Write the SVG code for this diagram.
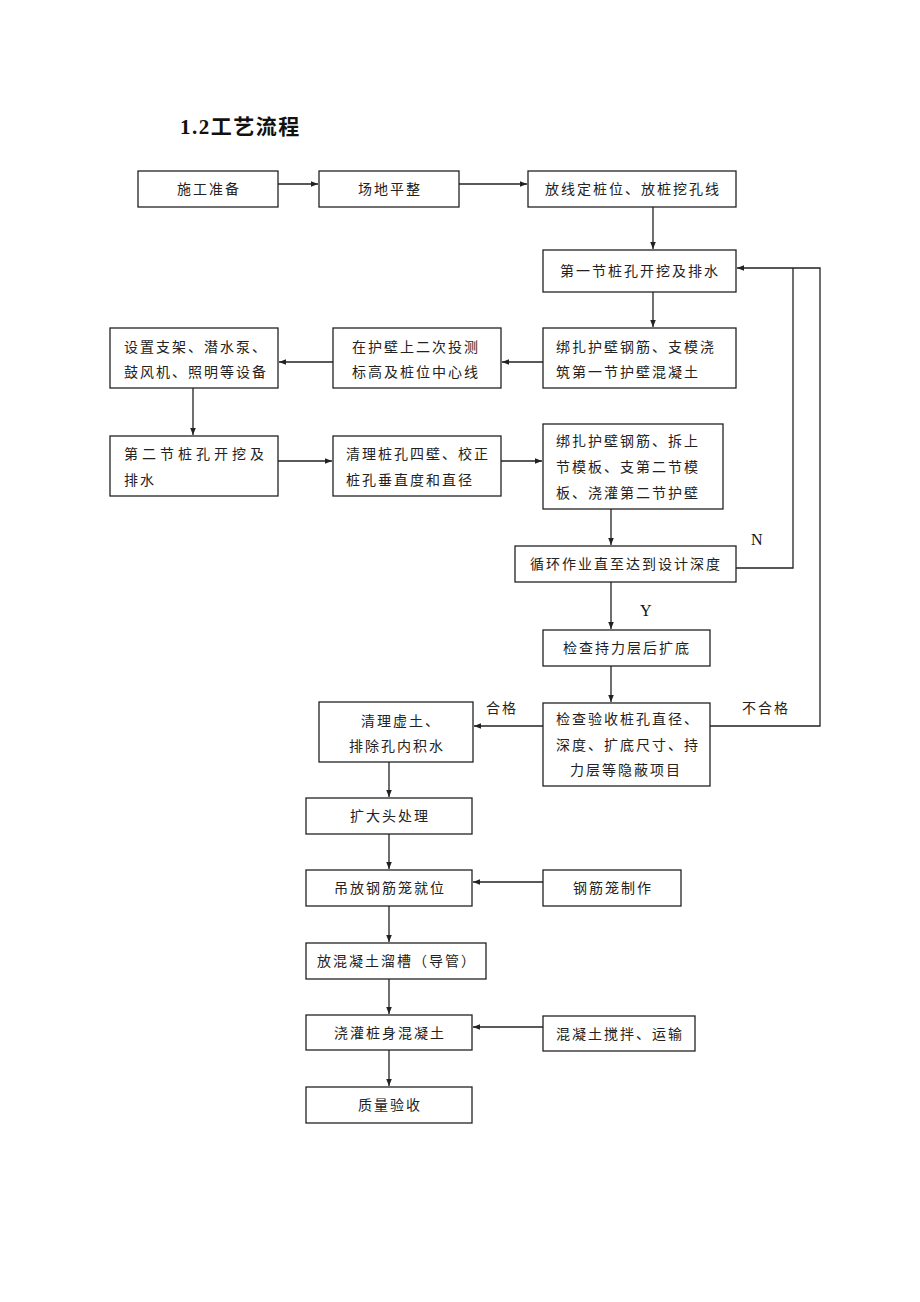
<svg xmlns="http://www.w3.org/2000/svg" width="920" height="1302" viewBox="0 0 920 1302">
<style>
.b{fill:#fff;stroke:#222;stroke-width:1.3}
.t{font-family:"Noto Sans CJK SC",sans-serif;font-size:14px;fill:#222;letter-spacing:2px}
.c{text-anchor:middle}
.l{fill:none;stroke:#222;stroke-width:1.3}
.yn{font-family:"Liberation Serif",serif;font-size:16px;fill:#111}
</style>
<defs>
<marker id="a" markerWidth="8" markerHeight="8" refX="7" refY="4" orient="auto" markerUnits="userSpaceOnUse">
<path d="M0,1.2 L7,4 L0,6.8 Z" fill="#222"/>
</marker>
</defs>
<rect width="920" height="1302" fill="#fff"/>
<text x="180" y="134" style="font-family:'Liberation Serif','Noto Sans CJK SC',serif;font-size:21px;font-weight:bold;fill:#111;letter-spacing:1.5px">1.2工艺流程</text>

<g id="n1"><rect class="b" x="138" y="171" width="140" height="36"/><text class="t c" x="209" y="194">施工准备</text></g>
<g id="n2"><rect class="b" x="319" y="171" width="140" height="36"/><text class="t c" x="390" y="194">场地平整</text></g>
<g id="n3"><rect class="b" x="528" y="171" width="208" height="36"/><text class="t c" x="633" y="194">放线定桩位、放桩挖孔线</text></g>
<g id="n4"><rect class="b" x="543" y="250" width="193" height="42"/><text class="t c" x="640" y="276">第一节桩孔开挖及排水</text></g>
<g id="n5"><rect class="b" x="543" y="328" width="193" height="60"/><text class="t" x="556" y="352">绑扎护壁钢筋、支模浇</text><text class="t" x="556" y="377">筑第一节护壁混凝土</text></g>
<g id="n6"><rect class="b" x="333" y="328" width="168" height="60"/><text class="t" x="352" y="352">在护壁上二次投测</text><text class="t" x="352" y="377">标高及桩位中心线</text></g>
<g id="n7"><rect class="b" x="110" y="328" width="168" height="60"/><text class="t" x="124" y="352">设置支架、潜水泵、</text><text class="t" x="124" y="377">鼓风机、照明等设备</text></g>
<g id="n8"><rect class="b" x="110" y="436" width="168" height="60"/><text class="t" x="124" y="459" style="letter-spacing:4px">第二节桩孔开挖及</text><text class="t" x="124" y="485">排水</text></g>
<g id="n9"><rect class="b" x="333" y="436" width="168" height="60"/><text class="t" x="346" y="459">清理桩孔四壁、校正</text><text class="t" x="346" y="485">桩孔垂直度和直径</text></g>
<g id="n10"><rect class="b" x="543" y="424" width="180" height="85"/><text class="t" x="556" y="446">绑扎护壁钢筋、拆上</text><text class="t" x="556" y="472">节模板、支第二节模</text><text class="t" x="556" y="498">板、浇灌第二节护壁</text></g>
<g id="n11"><rect class="b" x="515" y="546" width="221" height="36"/><text class="t c" x="626" y="569">循环作业直至达到设计深度</text></g>
<g id="n12"><rect class="b" x="543" y="630" width="167" height="36"/><text class="t c" x="627" y="653">检查持力层后扩底</text></g>
<g id="n13"><rect class="b" x="543" y="703" width="167" height="83"/><text class="t" x="556" y="724">检查验收桩孔直径、</text><text class="t" x="556" y="750">深度、扩底尺寸、持</text><text class="t" x="570" y="775">力层等隐蔽项目</text></g>
<g id="n14"><rect class="b" x="319" y="702" width="154" height="60"/><text class="t c" x="401" y="726">清理虚土、</text><text class="t c" x="397" y="751">排除孔内积水</text></g>
<g id="n15"><rect class="b" x="306" y="798" width="166" height="36"/><text class="t c" x="390" y="821">扩大头处理</text></g>
<g id="n16"><rect class="b" x="306" y="870" width="166" height="36"/><text class="t c" x="390" y="893">吊放钢筋笼就位</text></g>
<g id="n17"><rect class="b" x="543" y="870" width="138" height="36"/><text class="t c" x="613" y="893">钢筋笼制作</text></g>
<g id="n18"><rect class="b" x="306" y="943" width="180" height="36"/><text class="t c" x="397" y="966">放混凝土溜槽（导管）</text></g>
<g id="n19"><rect class="b" x="306" y="1015" width="166" height="35"/><text class="t c" x="390" y="1038">浇灌桩身混凝土</text></g>
<g id="n20"><rect class="b" x="543" y="1016" width="152" height="35"/><text class="t c" x="620" y="1039">混凝土搅拌、运输</text></g>
<g id="n21"><rect class="b" x="306" y="1087" width="166" height="36"/><text class="t c" x="390" y="1110">质量验收</text></g>

<g id="connectors">
<line class="l" x1="278" y1="184" x2="318" y2="184" marker-end="url(#a)"/>
<line class="l" x1="459" y1="184" x2="527" y2="184" marker-end="url(#a)"/>
<line class="l" x1="653" y1="207" x2="653" y2="249" marker-end="url(#a)"/>
<line class="l" x1="653" y1="292" x2="653" y2="327" marker-end="url(#a)"/>
<line class="l" x1="543" y1="362" x2="502" y2="362" marker-end="url(#a)"/>
<line class="l" x1="333" y1="362" x2="279" y2="362" marker-end="url(#a)"/>
<line class="l" x1="193" y1="388" x2="193" y2="435" marker-end="url(#a)"/>
<line class="l" x1="278" y1="461" x2="332" y2="461" marker-end="url(#a)"/>
<line class="l" x1="501" y1="461" x2="542" y2="461" marker-end="url(#a)"/>
<line class="l" x1="611" y1="509" x2="611" y2="545" marker-end="url(#a)"/>
<line class="l" x1="611" y1="582" x2="611" y2="629" marker-end="url(#a)"/>
<line class="l" x1="611" y1="666" x2="611" y2="702" marker-end="url(#a)"/>
<polyline class="l" points="736,568 793,568 793,268"/>
<polyline class="l" points="710,726 820,726 820,268 737,268" marker-end="url(#a)"/>
<line class="l" x1="543" y1="726" x2="474" y2="726" marker-end="url(#a)"/>
<line class="l" x1="389" y1="762" x2="389" y2="797" marker-end="url(#a)"/>
<line class="l" x1="389" y1="834" x2="389" y2="869" marker-end="url(#a)"/>
<line class="l" x1="543" y1="882" x2="473" y2="882" marker-end="url(#a)"/>
<line class="l" x1="389" y1="906" x2="389" y2="942" marker-end="url(#a)"/>
<line class="l" x1="389" y1="979" x2="389" y2="1014" marker-end="url(#a)"/>
<line class="l" x1="543" y1="1027" x2="473" y2="1027" marker-end="url(#a)"/>
<line class="l" x1="389" y1="1050" x2="389" y2="1086" marker-end="url(#a)"/>
<text class="yn" x="751" y="545">N</text>
<text class="yn" x="640" y="616">Y</text>
<text class="t" x="486" y="713">合格</text>
<text class="t" x="742" y="713">不合格</text>
</g>
</svg>
